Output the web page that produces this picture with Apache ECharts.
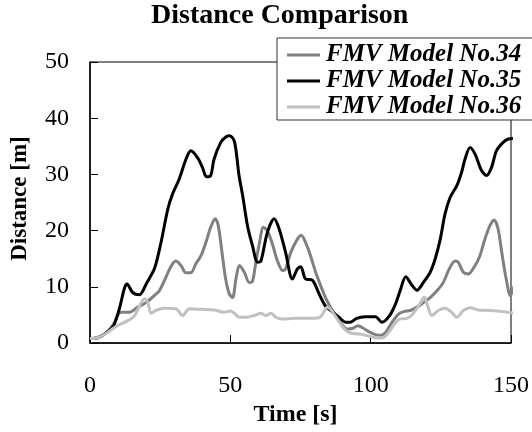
<!DOCTYPE html>
<html>
<head>
<meta charset="utf-8">
<script src="https://cdn.jsdelivr.net/npm/echarts@6/dist/echarts.min.js"></script>
<style>
  html, body { margin: 0; padding: 0; background: #fff; }
  #root { width: 532px; height: 432px; }
</style>
</head>
<body>
<div id="root"></div>
<script>
// series names (legend order)
var names = ['FMV Model No.34', 'FMV Model No.35', 'FMV Model No.36'];
var colors = ['#808080', '#000000', '#c0c0c0'];

// [time s, distance m]
var no34 = [[0,0.8],[3,1.0],[6,1.9],[8.5,3.5],[9.9,5.0],[11.1,5.5],[14.1,5.5],[17,6.4],[20,7.2],[23,8.5],
  [24.7,9.3],[26.5,11.1],[28.8,13.6],[30.6,14.6],[32.4,13.8],[34.2,12.5],[35.9,12.5],[37.7,14.1],[39.5,15.5],
  [41.3,17.9],[43,20.6],[44.6,22.1],[45.7,20.9],[47.2,15.5],[48.3,11.5],[49.6,8.8],[50.8,8.1],[52,11.4],
  [53.2,13.8],[55,12.6],[56.7,10.8],[57.9,11],[59.1,14.4],[60.3,17.6],[61.8,20.6],[63.2,20],[65,17.6],
  [66.8,14.6],[68.6,12.9],[69.7,13.2],[71.5,16.1],[73.9,18.5],[75.3,19.2],[76.8,17.9],[78.6,15.5],[80.4,12.6],
  [82.2,10.2],[83.9,8.1],[85.7,6.4],[87.5,4.9],[89.3,3.6],[91.6,2.5],[93.4,2.6],[95.5,3.1],[97.5,2.6],
  [99.5,2.0],[101.7,1.5],[103.5,1.4],[105.3,1.9],[107.6,3.7],[110,5.2],[111.8,5.6],[114.1,5.8],[116.5,6.4],
  [118.8,7.2],[121.2,8.1],[123.6,9.3],[125.9,10.8],[128,13.2],[130.1,14.6],[131.2,14.4],[133,12.6],
  [134.8,12.3],[137.2,13.8],[138.9,15.5],[140.7,18.5],[142.5,20.9],[144,21.9],[145.4,20.3],[146.9,15.5],
  [148.3,11.4],[149.8,8.4],[151.3,10.5]];

var no35 = [[0,0.8],[3,1.0],[6,1.9],[8.5,3.2],[10.5,6.2],[12.3,9.8],[13.2,10.5],[15.2,9.0],[17.6,8.6],
  [20.3,10.8],[23,13.3],[25.3,17.9],[27.7,23.8],[29.4,26.5],[31.8,29.2],[34.2,32.7],[35.9,34.2],[38.3,33.0],
  [40.1,31.2],[41.5,29.6],[43,29.8],[44.2,32.7],[46.6,35.7],[48.5,36.7],[49.8,36.9],[51.5,35.8],[53.1,29.8],
  [54.4,26.2],[56.1,20.9],[57.9,17.3],[59.7,14.4],[60.9,14.6],[63.2,19.7],[65.6,22.1],[67.4,20.3],[69.7,16.1],
  [72.1,11.4],[73.9,13.2],[75.1,13.6],[76.8,11.4],[79.2,11.2],[81.6,8.8],[83.9,6.6],[86.3,5.6],[88.7,4.6],
  [91.2,3.7],[92.8,3.7],[95,4.4],[98,4.7],[101.7,4.7],[104,3.7],[106.6,4.8],[108.8,6.9],[110.5,9.3],
  [112.5,11.8],[114.7,10.3],[116.5,9.4],[118.8,10.8],[121.2,12.6],[123,15],[124.8,18.5],[126.5,23],
  [128.3,25.9],[130.7,28],[132.4,30.4],[133.6,32.7],[135.4,34.8],[137.2,33.6],[139.5,30.7],[141.3,29.8],
  [143.1,31.3],[144.8,34.2],[147.2,35.7],[149,36.3],[151,36.4]];

var no36 = [[0,0.8],[3,1.0],[6,1.8],[8.2,2.6],[10.5,3.3],[13.5,4.0],[15.8,4.8],[17.6,6.6],[19.4,7.9],
  [20.6,7.2],[21.8,5.3],[23.5,5.8],[26.5,6.2],[30.6,6.1],[33,4.9],[35.4,6.1],[39.5,6.0],[44.2,5.9],
  [47.8,5.5],[50.1,5.7],[51.4,5.3],[53.2,4.6],[55.6,4.6],[58.5,4.9],[60.9,5.3],[62.7,4.9],[64.5,5.3],
  [66.2,4.6],[68.6,4.3],[72.7,4.4],[77.5,4.4],[81.6,4.5],[83.4,5.6],[84.6,6.4],[86.3,5.6],[88.1,4.3],
  [90.5,2.6],[92.8,1.8],[96.3,1.6],[99.9,1.2],[102.2,0.9],[104.6,1.0],[106.4,1.9],[108.2,3.2],[110.5,4.3],
  [112.9,4.4],[114.7,5.0],[116.5,6.2],[117.9,7.3],[119.1,8.2],[120.3,6.6],[121.8,4.9],[124.1,5.8],
  [126.5,6.2],[128.8,5.5],[130.7,4.6],[133,5.8],[135.4,6.3],[138.3,5.9],[142.5,5.8],[147.2,5.6],[151.3,5.3]];

var seriesData = [no34, no35, no36];

var FONT = 'Liberation Serif';

var myChart = echarts.init(document.getElementById('root'), null, { renderer: 'canvas' });

var series = [];
for (var i = 0; i < names.length; i++) {
  series.push({
    name: names[i],
    type: 'line',
    data: seriesData[i],
    showSymbol: false,
    smooth: 0.3,
    clip: false,
    color: colors[i],
    lineStyle: { width: 3, color: colors[i] }
  });
}

var option = {
  backgroundColor: '#fff',
  animation: false,
  title: {
    text: 'Distance Comparison',
    left: 151,
    top: 2,
    padding: 0,
    textStyle: { fontFamily: FONT, fontWeight: 'bold', fontSize: 28, lineHeight: 28, color: '#000' }
  },
  legend: {
    data: names,
    orient: 'vertical',
    left: 277,
    top: 38,
    padding: [4, 60, 0, 10],
    itemGap: 0,
    itemWidth: 33,
    itemHeight: 3,
    icon: 'rect',
    backgroundColor: '#fff',
    borderColor: '#333',
    borderWidth: 1,
    textStyle: { fontFamily: FONT, fontWeight: 'bold', fontStyle: 'italic', fontSize: 25, lineHeight: 26, color: '#000', padding: [0, 0, 0, 1] }
  },
  grid: {
    left: 90, top: 62, width: 421.5, height: 282,
    show: true, borderColor: '#000', borderWidth: 1
  },
  xAxis: {
    type: 'value', min: 0, max: 150, interval: 50,
    name: 'Time [s]', nameLocation: 'middle', nameGap: 57,
    nameTextStyle: { fontFamily: FONT, fontWeight: 'bold', fontSize: 24, color: '#000', padding: [0, 10, 0, 0] },
    axisLine: { show: true, lineStyle: { color: '#000', width: 1.5 } },
    axisTick: { show: true, inside: true, length: 8, lineStyle: { color: '#000' } },
    axisLabel: { margin: 31, fontFamily: FONT, fontSize: 24, color: '#000' },
    splitLine: { show: false }
  },
  yAxis: {
    type: 'value', min: 0, max: 50, interval: 10,
    name: 'Distance [m]', nameLocation: 'middle', nameGap: 58, nameRotate: 90,
    nameTextStyle: { fontFamily: FONT, fontWeight: 'bold', fontSize: 23, color: '#000', padding: [0, 0, 0, 8] },
    axisLine: { show: true, lineStyle: { color: '#000', width: 1.5 } },
    axisTick: { show: true, inside: true, length: 8, lineStyle: { color: '#000' } },
    axisLabel: { margin: 21, fontFamily: FONT, fontSize: 24, color: '#000', padding: [10, 0, 0, 0] },
    splitLine: { show: false }
  },
  series: series
};

myChart.setOption(option);
</script>
</body>
</html>
